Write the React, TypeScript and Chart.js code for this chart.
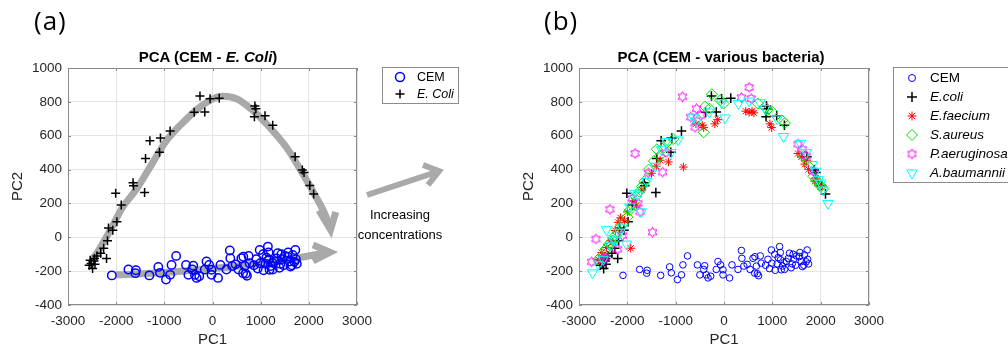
import React, { useEffect, useRef } from 'react';
import { Chart, registerables } from 'chart.js';

Chart.register(...registerables);

const FONT = '"Liberation Sans", Arial, Helvetica, sans-serif';
const TICK_COLOR = '#262626';
const GRID_COLOR = '#e4e4e4';
const BOX_COLOR = '#8a8a8a';
const ARROW_COLOR = '#a9a9a9';

const xTicks = [-3000, -2000, -1000, 0, 1000, 2000, 3000];
const yTicks = [-400, -200, 0, 200, 400, 600, 800, 1000];

const cemPoints: [number, number][] = [
  [-2090, -225], [-1745, -190], [-1590, -195], [-1600, -212], [-1310, -225], [-1125, -175], [-1090, -210],
  [-965, -250], [-880, -222], [-850, -163], [-755, -110], [-550, -163], [-500, -222], [-400, -168],
  [-420, -190], [-365, -222], [-330, -240], [-275, -230], [-125, -143], [-70, -163], [-20, -192],
  [-20, -222], [115, -240], [165, -163], [360, -78], [370, -124], [410, -170], [480, -160], [600, -124],
  [640, -115], [670, -170], [635, -212], [715, -227], [690, -215], [770, -153], [750, -110], [910, -130],
  [980, -75], [990, -153], [940, -185], [1100, -157], [1150, -55], [1165, -90], [1170, -133], [1185, -192],
  [1060, -195], [1210, -170], [1290, -143], [1355, -94], [1410, -157], [1445, -129], [1390, -180],
  [1500, -110], [1560, -114], [1600, -143], [1620, -173], [1665, -104], [1720, -75], [1750, -157],
  [1730, -130], [1650, -165], [1480, -165], [1330, -125], [1250, -190], [1050, -100], [860, -165],
  [540, -190], [290, -190], [-160, -190], [1700, -145], [1570, -90], [1430, -100], [1240, -150], [1120, -120],
];

const ecoliPoints: [number, number][] = [
  [-260, 835], [-50, 818], [140, 822], [-380, 738], [-160, 740],
  [880, 775], [900, 760], [870, 712], [1090, 718], [1250, 662],
  [1715, 476], [1865, 398], [1900, 382], [2020, 306], [2100, 256],
  [-880, 628], [-1300, 570], [-1080, 586], [-1100, 502], [-1390, 466],
  [-1410, 264], [-1650, 322], [-1640, 304], [-2010, 260], [-1895, 190],
  [-1985, 92], [-2070, 42], [-2160, 55], [-2180, -20], [-2260, -65],
  [-2320, -95], [-2200, -125], [-2400, -110], [-2460, -140], [-2520, -155],
  [-2560, -165], [-2490, -185], [-2440, -160], [-2540, -135], [-2450, -125],
];

const efaeciumPoints: [number, number][] = [
  [-580, 670], [-450, 662], [-420, 648], [-190, 670], [-130, 695], [450, 745], [520, 738], [580, 745],
  [620, 735], [950, 670], [985, 648], [-840, 415], [-1150, 445], [-1320, 455], [-1500, 378], [-1810, 190],
  [-1860, 215], [-1930, -65], [-2140, 115], [-2190, 88], [-2060, 100], [-2250, 40], [-2350, -20],
  [-2430, -60], [-2530, -90], [-2600, -130], [1530, 495], [1600, 475], [1670, 432], [1710, 455],
  [1880, 330], [1950, 318], [-2480, -110], [-2300, -30], [-2000, 150], [-1700, 280], [-1400, 420],
  [1750, 400], [1900, 350], [2000, 300],
];

const saureusPoints: [number, number][] = [
  [-250, 845], [-390, 772], [-420, 620], [-80, 810], [-10, 790], [840, 770], [900, 752], [1200, 690],
  [1260, 675], [-1390, 520], [-1330, 480], [-1180, 560], [-1560, 400], [-1700, 300], [-1820, 240],
  [-1950, 160], [-2080, 80], [-2150, 60], [-2250, 10], [-2380, -40], [-2500, -100], [-2600, -130],
  [1750, 420], [1850, 360], [1980, 310], [2050, 285], [-2550, -115], [-2450, -70], [-2300, -20],
  [-2200, 30], [-2000, 120], [-1900, 190], [-1750, 270], [-1650, 330], [-1450, 450], [-1250, 530],
  [-1050, 580], [-560, 700], [-300, 760], [700, 790], [1000, 740], [1650, 480], [1900, 340], [2000, 300],
];

const paeruginosaPoints: [number, number][] = [
  [-860, 830], [520, 885], [360, 825], [560, 820], [-570, 760], [-690, 710], [-480, 720], [-1840, 495],
  [-1270, 385], [-2360, 165], [-2650, -10], [-2740, -145], [-1480, 30], [1530, 550], [1620, 520],
  [1850, 390], [-1780, 200], [-1740, 150], [-2200, -70], [-2450, -120], [-1560, 380], [-2100, 10],
  [-2500, -140], [-1900, 230], [-1200, 500], [-600, 650], [1700, 480],
];

const abaumanniiPoints: [number, number][] = [
  [-2720, -210], [-2600, -160], [-2430, 45], [-2300, -10], [-2020, -40], [-2150, 30], [-1850, 260],
  [-1710, 150], [-1600, 330], [-1420, 420], [-1190, 565], [-950, 575], [-640, 710], [-560, 690],
  [20, 705], [-50, 795], [520, 805], [740, 795], [850, 760], [1230, 595], [1580, 555], [1700, 500],
  [1830, 430], [1950, 340], [2050, 280], [2150, 200], [-2500, -130], [-2350, -50], [-2250, -20],
  [-2100, 60], [-1950, 180], [-1780, 250], [-1300, 520], [-1100, 500], [-300, 740], [300, 790],
  [1100, 700], [1900, 390], [2000, 320],
];

// annotation arrows (data coordinates of panel a)
const arcPath: [number, number][] = [
  [-2500, -135], [-2360, -75], [-2120, 43], [-1880, 171], [-1570, 288], [-1295, 416], [-950, 573],
  [-606, 680], [-262, 769], [83, 827], [220, 833], [496, 818], [840, 749], [1116, 671], [1529, 533],
  [1873, 376], [2149, 239], [2330, 140], [2420, 75],
];
const arcHead: [number, number][] = [[2210, 160], [2450, 45], [2560, 150]];
const lowPath: [number, number][] = [[-2000, -222], [-1000, -208], [0, -185], [1000, -155], [1800, -120], [2400, -90]];
const lowHead: [number, number][] = [[2086, -45], [2439, -88], [2086, -140]];

type Mk = 'circle' | 'cross' | 'star' | 'diamond' | 'hex' | 'triDown';
interface LegendItem { label: string; italic: boolean; marker: Mk; color: string; r: number; lw: number; }

const leftLegend: LegendItem[] = [
  { label: 'CEM', italic: false, marker: 'circle', color: '#0000ff', r: 4.5, lw: 1.5 },
  { label: 'E. Coli', italic: true, marker: 'cross', color: '#000000', r: 4.5, lw: 1.5 },
];
const rightLegend: LegendItem[] = [
  { label: 'CEM', italic: false, marker: 'circle', color: '#0000ff', r: 3.5, lw: 1 },
  { label: 'E.coli', italic: true, marker: 'cross', color: '#000000', r: 5, lw: 1.5 },
  { label: 'E.faecium', italic: true, marker: 'star', color: '#ff0000', r: 4.5, lw: 1 },
  { label: 'S.aureus', italic: true, marker: 'diamond', color: '#00e000', r: 5.5, lw: 1 },
  { label: 'P.aeruginosa', italic: true, marker: 'hex', color: '#ff00ff', r: 5, lw: 1 },
  { label: 'A.baumannii', italic: true, marker: 'triDown', color: '#00ffff', r: 6, lw: 1 },
];

const toXY = (arr: [number, number][]) => arr.map(([x, y]) => ({ x, y }));

function makeHexagram(R: number, color: string): HTMLCanvasElement {
  const c = document.createElement('canvas');
  const s = Math.ceil(R * 2 + 3);
  c.width = s; c.height = s;
  const ctx = c.getContext('2d')!;
  ctx.strokeStyle = color; ctx.lineWidth = 1;
  ctx.beginPath();
  for (let k = 0; k < 12; k++) {
    const a = -Math.PI / 2 + (k * Math.PI) / 6;
    const rr = k % 2 === 0 ? R : R / Math.sqrt(3);
    const px = s / 2 + rr * Math.cos(a);
    const py = s / 2 + rr * Math.sin(a);
    if (k === 0) ctx.moveTo(px, py); else ctx.lineTo(px, py);
  }
  ctx.closePath();
  ctx.stroke();
  return c;
}

function drawMarker(ctx: CanvasRenderingContext2D, it: LegendItem, x: number, y: number, hex: HTMLCanvasElement | null) {
  ctx.save();
  ctx.strokeStyle = it.color; ctx.lineWidth = it.lw;
  const r = it.r;
  if (it.marker === 'hex' && hex) {
    ctx.drawImage(hex, x - hex.width / 2, y - hex.height / 2);
    ctx.restore();
    return;
  }
  ctx.beginPath();
  if (it.marker === 'circle') {
    ctx.arc(x, y, r, 0, Math.PI * 2);
  } else if (it.marker === 'cross') {
    ctx.moveTo(x - r, y); ctx.lineTo(x + r, y); ctx.moveTo(x, y - r); ctx.lineTo(x, y + r);
  } else if (it.marker === 'star') {
    const o = r * Math.SQRT1_2;
    ctx.moveTo(x - r, y); ctx.lineTo(x + r, y); ctx.moveTo(x, y - r); ctx.lineTo(x, y + r);
    ctx.moveTo(x - o, y - o); ctx.lineTo(x + o, y + o); ctx.moveTo(x + o, y - o); ctx.lineTo(x - o, y + o);
  } else if (it.marker === 'diamond') {
    ctx.moveTo(x - r, y); ctx.lineTo(x, y - r); ctx.lineTo(x + r, y); ctx.lineTo(x, y + r); ctx.closePath();
  } else if (it.marker === 'triDown') {
    for (let k = 0; k < 3; k++) {
      const a = Math.PI + (k * 2 * Math.PI) / 3;
      const px = x + Math.sin(a) * r;
      const py = y - Math.cos(a) * r;
      if (k === 0) ctx.moveTo(px, py); else ctx.lineTo(px, py);
    }
    ctx.closePath();
  }
  ctx.stroke();
  ctx.restore();
}

function makeLegendPlugin(items: LegendItem[], box: [number, number, number, number], rows: number[], markerX: number, textX: number, fontSize: number, hex: HTMLCanvasElement | null) {
  return {
    id: 'mLegend',
    afterDraw(chart: any) {
      const ctx: CanvasRenderingContext2D = chart.ctx;
      ctx.save();
      ctx.fillStyle = '#ffffff';
      ctx.fillRect(box[0], box[1], box[2], box[3]);
      ctx.strokeStyle = '#8c8c8c';
      ctx.lineWidth = 1;
      ctx.strokeRect(box[0] + 0.5, box[1] + 0.5, box[2], box[3]);
      items.forEach((it, i) => {
        drawMarker(ctx, it, markerX, rows[i], hex);
        ctx.fillStyle = '#000000';
        ctx.textBaseline = 'middle';
        ctx.textAlign = 'left';
        ctx.font = `${it.italic ? 'italic ' : ''}${fontSize}px ${FONT}`;
        ctx.fillText(it.label, textX, rows[i] + 0.5);
      });
      ctx.restore();
    },
  };
}

const boxPlugin = {
  id: 'mBox',
  beforeDatasetsDraw(chart: any) {
    const { ctx, chartArea: a, scales } = chart;
    ctx.save();
    ctx.strokeStyle = BOX_COLOR;
    ctx.lineWidth = 1;
    ctx.strokeRect(a.left + 0.5, a.top + 0.5, a.right - a.left - 1, a.bottom - a.top - 1);
    ctx.beginPath();
    const tl = 3;
    xTicks.forEach((v) => {
      const px = Math.round(scales.x.getPixelForValue(v)) + 0.5;
      ctx.moveTo(px, a.bottom); ctx.lineTo(px, a.bottom - tl);
      ctx.moveTo(px, a.top); ctx.lineTo(px, a.top + tl);
    });
    yTicks.forEach((v) => {
      const py = Math.round(scales.y.getPixelForValue(v)) + 0.5;
      ctx.moveTo(a.left, py); ctx.lineTo(a.left + tl, py);
      ctx.moveTo(a.right, py); ctx.lineTo(a.right - tl, py);
    });
    ctx.stroke();
    ctx.restore();
  },
};

function axisScales(): any {
  const tickFont = { family: FONT, size: 13.5 };
  const titleFont = { family: FONT, size: 15, lineHeight: 1 };
  return {
    x: {
      type: 'linear',
      min: xTicks[0],
      max: xTicks[xTicks.length - 1],
      afterBuildTicks: (s: any) => { s.ticks = xTicks.map((v) => ({ value: v })); },
      afterFit: (s: any) => { s.height = 42; },
      grid: { color: GRID_COLOR, drawTicks: false },
      border: { display: false },
      ticks: { font: tickFont, color: TICK_COLOR, padding: 8, maxRotation: 0, autoSkip: false, callback: (v: any) => String(v) },
      title: { display: true, text: 'PC1', color: TICK_COLOR, font: titleFont, padding: { top: 0, bottom: 0 } },
    },
    y: {
      type: 'linear',
      min: yTicks[0],
      max: yTicks[yTicks.length - 1],
      afterBuildTicks: (s: any) => { s.ticks = yTicks.map((v) => ({ value: v })); },
      afterFit: (s: any) => { s.width = 68; },
      grid: { color: GRID_COLOR, drawTicks: false },
      border: { display: false },
      ticks: { font: tickFont, color: TICK_COLOR, padding: 6, autoSkip: false, callback: (v: any) => String(v) },
      title: { display: true, text: 'PC2', color: TICK_COLOR, font: titleFont, padding: { top: 10.5, bottom: 0 } },
    },
  };
}

const pointSet = (label: string, pts: [number, number][], style: any, color: string, r: number, lw: number, order: number, rotation = 0) => ({
  label,
  data: toXY(pts),
  pointStyle: style,
  pointRadius: r,
  pointBorderWidth: lw,
  pointBorderColor: color,
  pointBackgroundColor: 'rgba(0,0,0,0)',
  borderColor: color,
  backgroundColor: 'rgba(0,0,0,0)',
  pointRotation: rotation,
  showLine: false,
  order,
});

const arrowSet = (pts: [number, number][], smooth: boolean) => ({
  label: '',
  data: toXY(pts),
  showLine: true,
  pointRadius: 0,
  borderColor: ARROW_COLOR,
  borderWidth: 7,
  borderCapStyle: 'butt',
  borderJoinStyle: 'miter',
  tension: smooth ? 0.4 : 0,
  cubicInterpolationMode: smooth ? 'monotone' : 'default',
  order: 20,
});

export default function App() {
  const leftRef = useRef<HTMLCanvasElement>(null);
  const rightRef = useRef<HTMLCanvasElement>(null);

  useEffect(() => {
    const hex = makeHexagram(5, '#ff00ff');
    const common: any = {
      responsive: false,
      maintainAspectRatio: false,
      animation: false,
      events: [],
      plugins: { legend: { display: false }, tooltip: { enabled: false }, title: { display: false } },
      scales: axisScales(),
    };
    const left = new Chart(leftRef.current!, {
      type: 'scatter',
      data: {
        datasets: [
          pointSet('CEM', cemPoints, 'circle', '#0000ff', 4.2, 1.5, 2),
          pointSet('E. Coli', ecoliPoints, 'cross', '#000000', 4.5, 1.5, 1),
          arrowSet(arcPath, true) as any,
          arrowSet(arcHead, false) as any,
          arrowSet(lowPath, true) as any,
          arrowSet(lowHead, false) as any,
        ],
      },
      options: { ...common, layout: { padding: { left: 0, right: 154, top: 68, bottom: 0 } } },
      plugins: [boxPlugin, makeLegendPlugin(leftLegend, [382, 67, 76, 36], [77, 94], 400, 417, 12.5, null)],
    } as any);
    const right = new Chart(rightRef.current!, {
      type: 'scatter',
      data: {
        datasets: [
          pointSet('CEM', cemPoints, 'circle', '#0000ff', 3.3, 1, 6),
          pointSet('E.coli', ecoliPoints, 'cross', '#000000', 4.8, 1.5, 5),
          pointSet('E.faecium', efaeciumPoints, 'star', '#ff0000', 4.3, 1, 4),
          pointSet('S.aureus', saureusPoints, 'rectRot', '#00e000', 5.5, 1, 3),
          pointSet('P.aeruginosa', paeruginosaPoints, hex, '#ff00ff', 5, 1, 2),
          pointSet('A.baumannii', abaumanniiPoints, 'triangle', '#00ffff', 6, 1, 1, 180),
        ],
      },
      options: { ...common, scales: axisScales(), layout: { padding: { left: 0, right: 139, top: 68, bottom: 0 } } },
      plugins: [boxPlugin, makeLegendPlugin(rightLegend, [382, 67, 140, 115], [78, 97, 116, 135, 154, 173], 401, 419, 13.5, hex)],
    } as any);
    return () => { left.destroy(); right.destroy(); };
  }, []);

  const titleStyle: React.CSSProperties = {
    position: 'absolute', top: 48, width: 360, textAlign: 'center', fontFamily: FONT,
    fontSize: 15, fontWeight: 'bold', lineHeight: '18px', color: '#000', whiteSpace: 'nowrap',
  };
  const panelLabel: React.CSSProperties = {
    position: 'absolute', top: 5, fontFamily: '"Open Sans", "Noto Sans", sans-serif', fontSize: 26,
    lineHeight: '30px', color: '#000', letterSpacing: 1,
  };

  return (
    <div style={{ position: 'absolute', left: 0, top: 0, width: 1008, height: 347, overflow: 'hidden', background: '#fff' }}>
      <canvas ref={leftRef} width={511} height={347} style={{ position: 'absolute', left: 0, top: 0, width: 511, height: 347 }} />
      <canvas ref={rightRef} width={497} height={347} style={{ position: 'absolute', left: 511, top: 0, width: 497, height: 347 }} />
      <div style={{ ...panelLabel, left: 34 }}>(a)</div>
      <div style={{ ...panelLabel, left: 544 }}>(b)</div>
      <div style={{ ...titleStyle, left: 208 - 180 }}>PCA (CEM - <i>E. Coli</i>)</div>
      <div style={{ ...titleStyle, left: 721 - 180 }}>PCA (CEM - various bacteria)</div>
      <svg width={1008} height={347} style={{ position: 'absolute', left: 0, top: 0, pointerEvents: 'none' }}>
        <line x1={367} y1={195} x2={435} y2={172.5} stroke={ARROW_COLOR} strokeWidth={6} />
        <polyline points="423,165 439,171 428,185" fill="none" stroke={ARROW_COLOR} strokeWidth={6} strokeLinejoin="miter" />
      </svg>
      <div style={{ position: 'absolute', left: 300, top: 205, width: 200, textAlign: 'center', fontFamily: FONT, fontSize: 13, lineHeight: '20px', color: '#000' }}>
        Increasing<br />concentrations
      </div>
    </div>
  );
}
